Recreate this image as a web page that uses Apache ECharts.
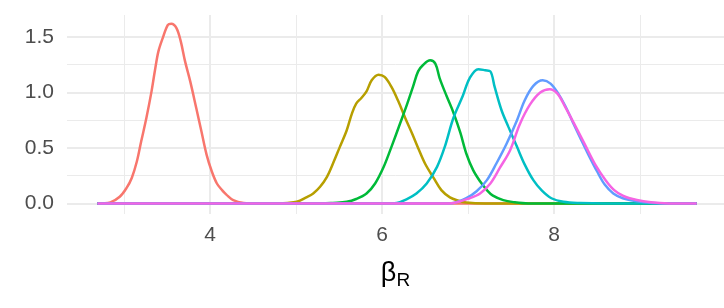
<!DOCTYPE html>
<html>
<head>
<meta charset="utf-8">
<script src="https://cdn.jsdelivr.net/npm/echarts@6/dist/echarts.min.js"></script>
<style>
  html, body { margin: 0; padding: 0; background: #fff; }
  #chart { width: 724px; height: 308px; }
</style>
</head>
<body>
<div id="chart"></div>
<script>
// density curves, [beta_R, density]
const redCurve = [[2.69,0],[2.84,0.01],[2.95,0.06],[3.03,0.14],[3.09,0.23],[3.15,0.38],[3.20,0.56],[3.26,0.77],[3.32,1.01],[3.36,1.20],[3.40,1.37],[3.45,1.49],[3.51,1.61],[3.55,1.62],[3.61,1.58],[3.66,1.46],[3.71,1.28],[3.77,1.10],[3.84,0.86],[3.90,0.65],[3.96,0.44],[4.02,0.29],[4.08,0.18],[4.14,0.12],[4.19,0.08],[4.27,0.03],[4.39,0.005],[4.55,0],[9.66,0]];
const oliveCurve = [[2.69,0],[4.70,0],[4.90,0.005],[5.01,0.015],[5.12,0.055],[5.20,0.09],[5.28,0.15],[5.36,0.24],[5.43,0.36],[5.51,0.51],[5.59,0.66],[5.65,0.81],[5.70,0.90],[5.76,0.95],[5.82,1.01],[5.88,1.11],[5.96,1.16],[6.03,1.14],[6.11,1.05],[6.19,0.92],[6.27,0.77],[6.35,0.63],[6.42,0.50],[6.50,0.36],[6.60,0.23],[6.69,0.12],[6.79,0.055],[6.89,0.025],[6.98,0.008],[7.2,0],[9.66,0]];
const greenCurve = [[2.69,0],[5.3,0],[5.43,0.005],[5.59,0.015],[5.70,0.04],[5.82,0.09],[5.92,0.18],[6.02,0.33],[6.11,0.51],[6.21,0.72],[6.29,0.89],[6.36,1.05],[6.42,1.19],[6.48,1.25],[6.56,1.29],[6.62,1.26],[6.67,1.13],[6.75,0.97],[6.83,0.82],[6.91,0.64],[6.98,0.45],[7.06,0.30],[7.14,0.20],[7.22,0.12],[7.29,0.07],[7.41,0.03],[7.53,0.012],[7.7,0],[9.66,0]];
const cyanCurve = [[2.69,0],[6.05,0],[6.17,0.005],[6.29,0.04],[6.40,0.09],[6.52,0.18],[6.64,0.33],[6.73,0.51],[6.83,0.77],[6.94,0.97],[7.02,1.13],[7.12,1.21],[7.20,1.20],[7.26,1.19],[7.31,1.05],[7.39,0.84],[7.47,0.69],[7.57,0.51],[7.66,0.35],[7.76,0.21],[7.86,0.115],[7.97,0.047],[8.11,0.015],[8.30,0.004],[8.6,0],[9.66,0]];
const blueCurve = [[2.69,0],[6.7,0],[6.83,0.005],[6.98,0.047],[7.10,0.11],[7.22,0.21],[7.33,0.36],[7.45,0.54],[7.57,0.75],[7.66,0.93],[7.76,1.06],[7.87,1.11],[7.96,1.08],[8.05,0.99],[8.13,0.88],[8.22,0.73],[8.30,0.60],[8.40,0.44],[8.50,0.29],[8.59,0.17],[8.69,0.09],[8.80,0.047],[8.96,0.02],[9.15,0.005],[9.4,0],[9.66,0]];
const pinkCurve = [[2.69,0],[6.7,0],[6.83,0.005],[7.02,0.047],[7.14,0.09],[7.26,0.18],[7.37,0.32],[7.49,0.48],[7.60,0.71],[7.72,0.89],[7.84,1.00],[7.95,1.03],[8.04,0.99],[8.13,0.87],[8.24,0.71],[8.36,0.53],[8.48,0.35],[8.60,0.21],[8.70,0.12],[8.80,0.07],[8.88,0.047],[9.04,0.02],[9.23,0.005],[9.45,0],[9.66,0]];

const xMajorTicks = [4, 6, 8];
const xMinorTicks = [3, 5, 7, 9];
const yMajorTicks = [0, 0.5, 1, 1.5];
const yMinorTicks = [0.25, 0.75, 1.25];

const curves = [redCurve, oliveCurve, greenCurve, cyanCurve, blueCurve, pinkCurve];
const colors = ['#F8766D', '#B79F00', '#00BA38', '#00BFC4', '#619CFF', '#F564E3'];

const chart = echarts.init(document.getElementById('chart'));

const xMin = 2.337, xMax = 9.977;
const yMin = -0.095, yMax = 1.698;
const gridColor = '#EBEBEB';
const font = 'Liberation Sans, Arial, sans-serif';
const labelStyle = { color: '#4D4D4D', fontSize: 21, fontFamily: font };

chart.setOption({
  animation: false,
  grid: { left: 67, right: 0, top: 15, bottom: 94, containLabel: false },
  xAxis: [
    {
      type: 'value', min: xMin, max: xMax,
      axisLine: { show: false },
      axisTick: { show: false, customValues: xMajorTicks },
      axisLabel: Object.assign({ customValues: xMajorTicks, margin: 11 }, labelStyle),
      splitLine: { show: true, lineStyle: { color: gridColor, width: 2 } },
      name: '{b|β}{s|R}',
      nameLocation: 'middle',
      nameGap: 43,
      nameTextStyle: {
        fontFamily: font,
        color: '#000',
        rich: {
          b: { fontSize: 27, fontFamily: font, color: '#000' },
          s: { fontSize: 19, fontFamily: font, color: '#000', padding: [14, 0, 0, 0] },
        },
      },
    },
    {
      type: 'value', min: xMin, max: xMax, position: 'bottom',
      axisLine: { show: false },
      axisTick: { show: false, customValues: xMinorTicks },
      axisLabel: { show: false, customValues: xMinorTicks },
      splitLine: { show: true, lineStyle: { color: gridColor, width: 1 } },
    },
  ],
  yAxis: [
    {
      type: 'value', min: yMin, max: yMax,
      axisLine: { show: false },
      axisTick: { show: false, customValues: yMajorTicks },
      axisLabel: Object.assign({ customValues: yMajorTicks, margin: 13, formatter: (v) => v.toFixed(1) }, labelStyle),
      splitLine: { show: true, lineStyle: { color: gridColor, width: 2 } },
    },
    {
      type: 'value', min: yMin, max: yMax,
      axisLine: { show: false },
      axisTick: { show: false, customValues: yMinorTicks },
      axisLabel: { show: false, customValues: yMinorTicks },
      splitLine: { show: true, lineStyle: { color: gridColor, width: 1 } },
    },
  ],
  series: curves.map((d, i) => ({
    type: 'line',
    data: d,
    smooth: 0.35,
    showSymbol: false,
    lineStyle: { color: colors[i], width: 2.5 },
    itemStyle: { color: colors[i] },
  })),
});
</script>
</body>
</html>
